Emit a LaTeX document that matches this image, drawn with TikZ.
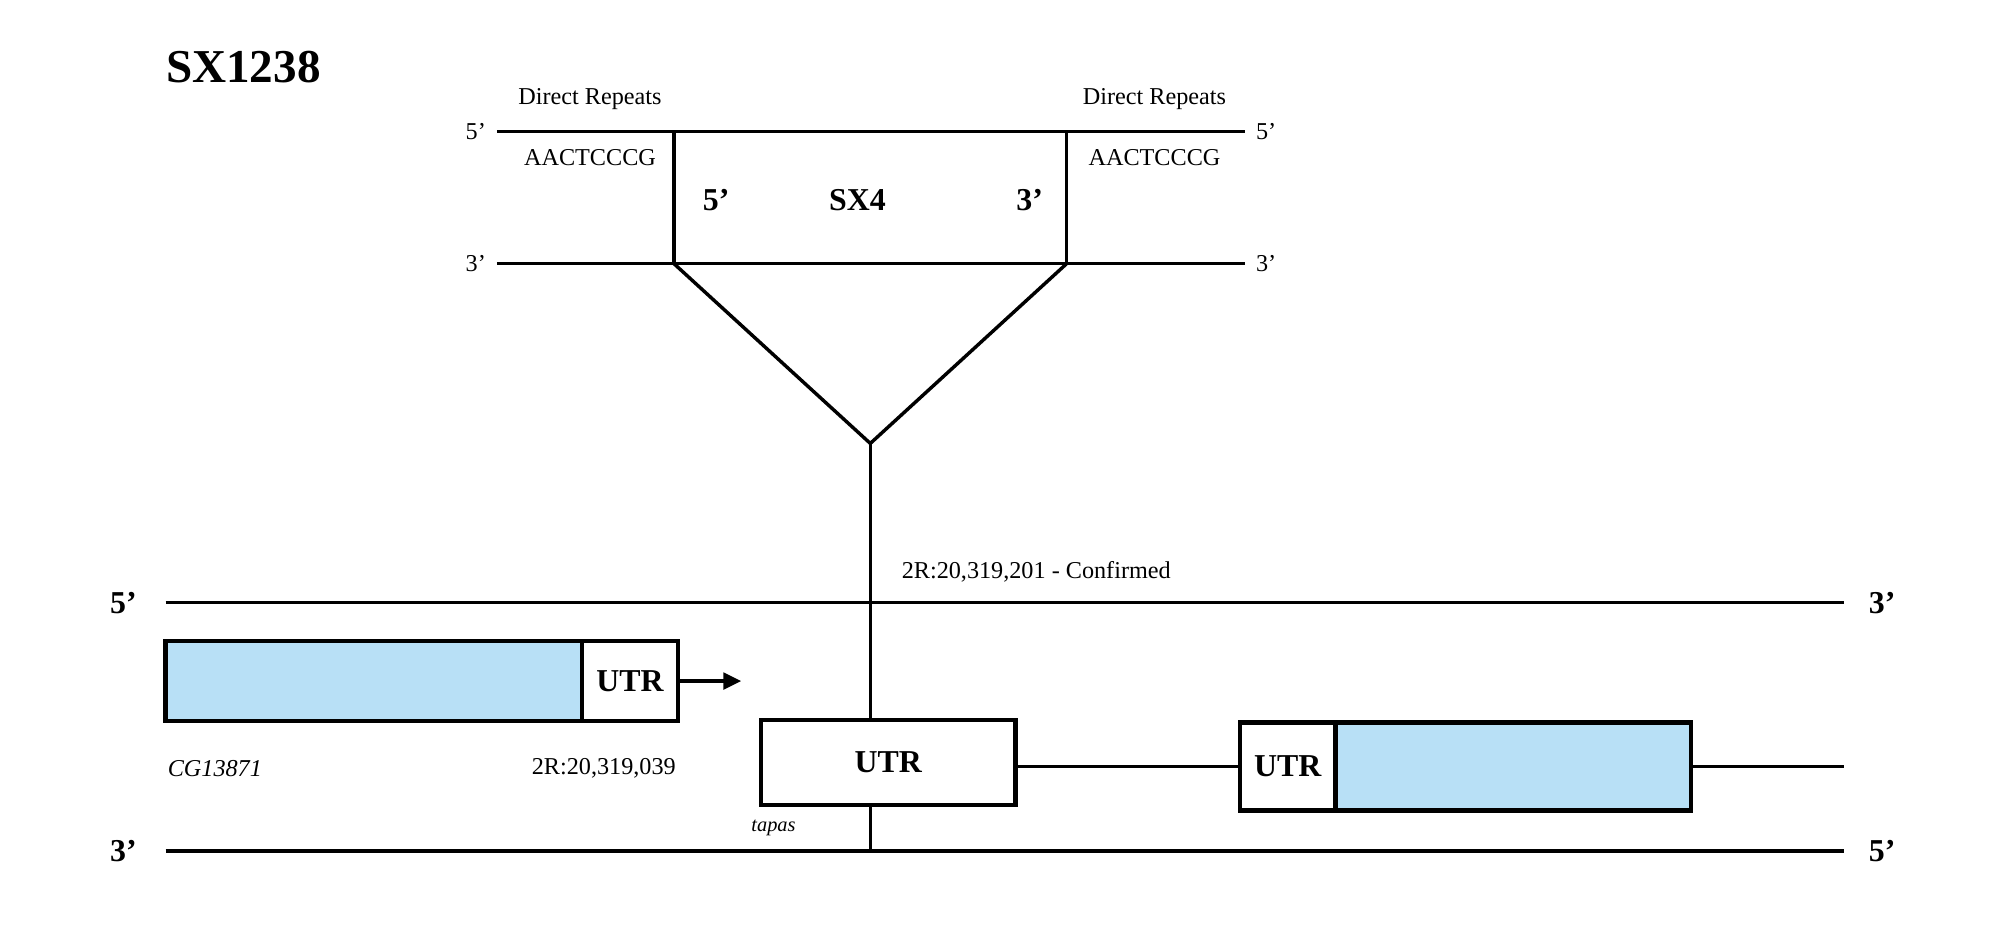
\documentclass[tikz,border=0pt]{standalone}
\usepackage{fontspec}
\setmainfont{Liberation Serif}
\usetikzlibrary{arrows.meta}
\definecolor{cdsblue}{RGB}{184,224,246}

\begin{document}
\begin{tikzpicture}[x=1pt,y=-1pt,line width=2.7pt,
    small/.style={font=\fontsize{19}{21}\selectfont},
    bold/.style={font=\fontsize{25}{27}\selectfont\bfseries},
    title/.style={font=\fontsize{37}{40}\selectfont\bfseries},
    gene/.style={font=\fontsize{19}{21}\selectfont\itshape},
    exon/.style={draw,line width=3.4pt,inner sep=0pt},
    cds/.style={exon,fill=cdsblue},
    utr/.style={exon,fill=white,bold}]
  \useasboundingbox (0,0) rectangle (1568,730);

  \node[title] (name) at (191,53) {SX1238};

  % transposon with its direct repeats
  \node[small] (drL) at (463,78) {Direct Repeats};
  \node[small] (drR) at (906,78) {Direct Repeats};
  \node[small] (seqL) at (463,124) {AACTCCCG};
  \node[small] (seqR) at (906,124) {AACTCCCG};
  \node[small,anchor=east] (t5L) at (386,103) {5’};
  \node[small,anchor=west] (t5R) at (981,103) {5’};
  \node[small,anchor=east] (t3L) at (386,207) {3’};
  \node[small,anchor=west] (t3R) at (981,207) {3’};
  \node[bold] (te5) at (562,157) {5’};
  \node[bold] (te) at (673,157) {SX4};
  \node[bold] (te3) at (808,157) {3’};

  \coordinate (a1) at (390,103);
  \coordinate (a2) at (977,103);
  \coordinate (b1) at (390,207);
  \coordinate (b2) at (977,207);
  \coordinate (c1) at (529,103);
  \coordinate (c2) at (837,103);
  \coordinate (d1) at (529,207);
  \coordinate (d2) at (837,207);
  \coordinate (apex) at (683,348);
  \draw (a1) -- (a2) (b1) -- (b2) (c1) -- (d1) (c2) -- (d2);
  \draw (d1) -- (apex) -- (d2);

  % genomic strands
  \coordinate (s5L) at (130,473);
  \coordinate (s5R) at (1447,473);
  \coordinate (s3L) at (130,668);
  \coordinate (s3R) at (1447,668);
  \coordinate (foot) at (683,668);
  \node[bold,anchor=east] (g5L) at (112,473) {5’};
  \node[bold,anchor=west] (g3R) at (1462,473) {3’};
  \node[bold,anchor=east] (g3L) at (112,668) {3’};
  \node[bold,anchor=west] (g5R) at (1462,668) {5’};
  \draw (s5L) -- (s5R) (s3L) -- (s3R);
  \node[small,anchor=west] (site) at (703,449) {2R:20,319,201 - Confirmed};

  % CG13871
  \node[cds,minimum width=327pt,minimum height=63pt] (cgcds) at (293.5,534.5) {};
  \node[utr,minimum width=75pt,minimum height=63pt] (cgutr) at (494.5,534.5) {UTR};
  \coordinate (tip) at ([xshift=48pt]cgutr.east);
  \draw[-{Triangle[length=14pt,width=13pt]}] (cgutr.east) -- (tip);
  \node[gene,anchor=west] (cgname) at (127,603) {CG13871};
  \node[small,anchor=east] (cgpos) at (535,603) {2R:20,319,039};

  % tapas
  \node[utr,minimum width=200pt,minimum height=67pt] (tputr) at (697,598.5) {UTR};
  \node[utr,minimum width=75pt,minimum height=69pt] (rutr) at (1010.5,601.5) {UTR};
  \node[cds,minimum width=279pt,minimum height=69pt] (rcds) at (1187.5,601.5) {};
  \coordinate (tail) at (1447,601.5);
  \draw (rutr.west -| tputr.east) -- (rutr.west) (rcds.east) -- (tail);
  \node[gene,font=\fontsize{16}{18}\selectfont\itshape,anchor=west] (tpname) at (585,650) {tapas};

  \draw (apex) -- (apex |- tputr.north);
  \draw (apex |- tputr.south) -- (foot);
\end{tikzpicture}
\end{document}
